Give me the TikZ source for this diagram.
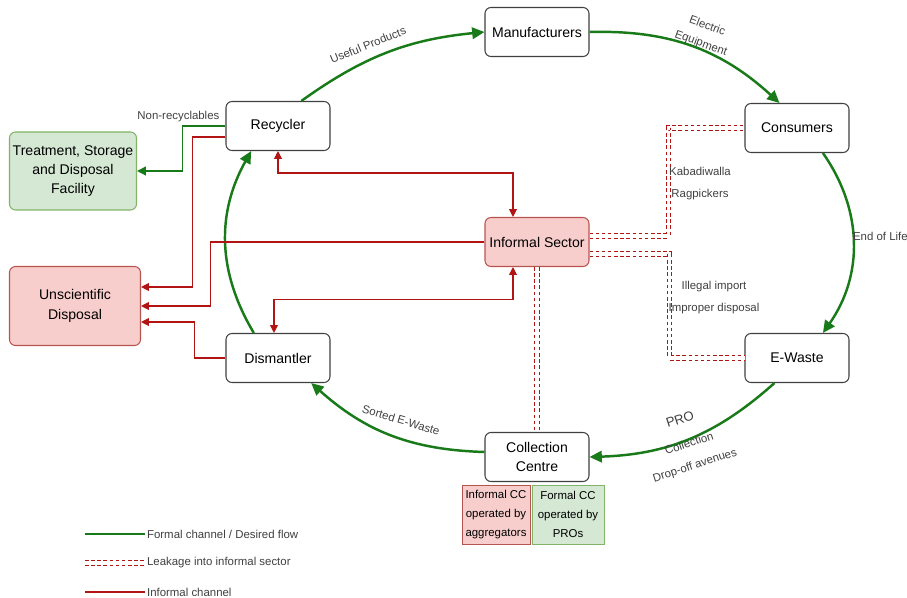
\documentclass[tikz,border=0pt]{standalone}
\usepackage{fontspec}
\setmainfont{Liberation Sans}
\usetikzlibrary{arrows.meta,calc}

\definecolor{fgreen}{RGB}{25,122,25}
\definecolor{ired}{RGB}{178,20,20}
\definecolor{redfill}{RGB}{248,206,204}
\definecolor{redline}{RGB}{184,84,80}
\definecolor{greenfill}{RGB}{213,232,212}
\definecolor{greenline}{RGB}{130,179,102}

\begin{document}
\begin{tikzpicture}[x=0.2mm, y=0.2mm, every node/.style={font=\fontsize{8}{11}\selectfont}]

	\tikzstyle{box}=[draw=black!75, line width=0.6pt, rounded corners=1.2mm, fill=white, minimum width=2.08cm, minimum height=0.98cm, align=center, inner sep=1pt]
	\tikzstyle{boxr}=[box, draw=redline, fill=redfill]
	\tikzstyle{boxg}=[box, draw=greenline, fill=greenfill]
	\tikzstyle{ccbox}=[draw, line width=0.5pt, minimum height=1.18cm, align=center, inner sep=0pt, font=\fontsize{6.5}{11}\selectfont]
	\tikzstyle{lbl}=[text=black!75, font=\fontsize{6.5}{9}\selectfont, inner sep=1pt]
	\tikzstyle{formal}=[draw=fgreen, line width=1.4pt, >={Triangle[length=7pt,width=6.5pt]}, ->]
	\tikzstyle{informal}=[draw=ired, line width=0.6pt, >={Triangle[length=4.5pt,width=4.5pt]}, ->]
	\tikzstyle{leak}=[draw=ired, line width=0.5pt, double=white, double distance=0.7mm, dash pattern=on 2pt off 1.5pt]

	\useasboundingbox (0,0) rectangle (907,598);

	% stages of the formal loop
	\node[box] (man) at (537,566) {Manufacturers};
	\node[box] (con) at (797,470) {Consumers};
	\node[box] (ew) at (797,240) {E-Waste};
	\node[box] (cc) at (537,141) {Collection\\Centre};
	\node[box] (dis) at (278,240) {Dismantler};
	\node[box] (rec) at (278,472) {Recycler};
	\node[boxr] (inf) at (537,356) {Informal Sector};
	\node[boxg, minimum width=2.54cm, minimum height=1.56cm] (tsd) at (73,427) {Treatment, Storage\\and Disposal\\Facility};
	\node[boxr, minimum width=2.62cm, minimum height=1.58cm] (usd) at (75,292) {Unscientific\\Disposal};
	\node[ccbox, draw=redline, fill=redfill, minimum width=1.36cm] (icc) at (496,83.5) {Informal CC\\operated by\\aggregators};
	\node[ccbox, draw=greenline, fill=greenfill, minimum width=1.44cm] (fcc) at (568,83.5) {Formal CC\\operated by\\PROs};

	% formal channel
	\draw[formal] (rec.47) to[bend left=15] (man.west);
	\draw[formal] (man.east) to[bend left=22] (con.125);
	\draw[formal] (con.-44) to[bend left=35] (ew.44);
	\draw[formal] (ew.228) to[bend left=20] (cc.east);
	\draw[formal] ($(cc.west)+(0,5)$) to[bend left=20] (dis.-37);
	\draw[formal] (dis.134) to[bend left=30] (rec.223);
	\draw[formal, line width=0.8pt, >={Triangle[length=5pt,width=5pt]}] (rec.west) -- ++(-43,0) |- (tsd.east);

	% informal channel
	\draw[informal] ($(rec.west)+(0,-11)$) -- ++(-33,0) |- ($(usd.east)+(0,19)$);
	\draw[informal] (inf.west) -- ++(-274,0) |- (usd.east);
	\draw[informal] (dis.west) -- ++(-31,0) |- ($(usd.east)+(0,-16)$);
	\draw[informal, <->] (rec.south) -- ++(0,-22) -| ($(inf.north)+(-24,0)$);
	\draw[informal, <->] ($(dis.north)+(-4,0)$) -- ++(0,33) -| ($(inf.south)+(-24,0)$);

	% leakage
	\draw[leak] ($(inf.east)+(0,6)$) -- ++(79,0) |- (con.west);
	\draw[leak] ($(inf.east)+(0,-12)$) -- ++(80,0) |- (ew.west);
	\draw[leak] (inf.south) -- (cc.north);

	% labels
	\node[lbl, rotate=22] (lup) at (368,553) {Useful Products};
	\node[lbl, rotate=-20, align=center, font=\fontsize{6.5}{10.5}\selectfont] (lee) at (704,563) {Electric\\Equipment};
	\node[lbl, anchor=west] (leol) at (851,362) {End of Life};
	\node[lbl, rotate=18, font=\fontsize{7.5}{9}\selectfont] (lpro) at (680,179) {PRO};
	\node[lbl, rotate=18] (lcol) at (689,155) {Collection};
	\node[lbl, rotate=18] (ldrop) at (695,132) {Drop-off avenues};
	\node[lbl, rotate=-17] (lsew) at (401,178) {Sorted E-Waste};
	\node[lbl, align=center, font=\fontsize{6.5}{12.5}\selectfont] (lkab) at (700,414) {Kabadiwalla\\Ragpickers};
	\node[lbl, align=center, font=\fontsize{6.5}{12.5}\selectfont] (lill) at (714,300) {Illegal import\\Improper disposal};
	\node[lbl, anchor=south east] (lnr) at ($(rec.west)+(-4,2)$) {Non-recyclables};

	% legend
	\coordinate (lg1) at (85,64);
	\coordinate (lg2) at (85,35);
	\coordinate (lg3) at (85,6);
	\node[lbl, anchor=west] (lt1) at (145,64) {Formal channel / Desired flow};
	\node[lbl, anchor=west] (lt2) at (145,35) {Leakage into informal sector};
	\node[lbl, anchor=west] (lt3) at (145,6) {Informal channel};
	\draw[draw=fgreen, line width=0.6pt] (lg1) -- (lt1.west);
	\draw[leak] (lg2) -- (lt2.west);
	\draw[draw=ired, line width=0.6pt] (lg3) -- (lt3.west);

\end{tikzpicture}
\end{document}
